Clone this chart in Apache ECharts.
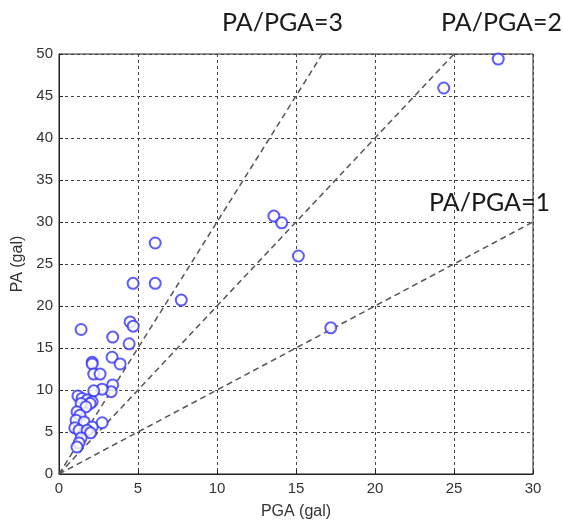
<!DOCTYPE html>
<html>
<head>
<meta charset="utf-8">
<script src="https://cdn.jsdelivr.net/npm/echarts@6/dist/echarts.min.js"></script>
<style>
html,body{margin:0;padding:0;background:#fff;}
#chart{width:563px;height:526px;}
</style>
</head>
<body>
<div id="chart"></div>
<script>
// Data
var pga = [27.8, 24.35, 6.09, 4.69, 6.09, 7.74, 15.15, 13.6, 14.1, 17.2, 1.4, 4.5, 4.7, 3.4, 4.44, 3.36, 2.1, 2.1, 3.87, 2.2, 2.6, 3.4, 3.3, 2.73, 2.2, 1.2, 1.46, 1.78, 2.1, 1.97, 1.4, 1.7, 1.14, 1.33, 1.08, 1.59, 2.73, 2.1, 1.0, 1.27, 1.78, 2.0, 1.4, 1.27, 1.14];
var pa  = [49.4, 45.95, 27.5, 22.7, 22.7, 20.7, 25.95, 30.7, 29.9, 17.4, 17.2, 18.1, 17.6, 16.3, 15.5, 13.9, 13.3, 13.1, 13.1, 11.9, 11.9, 10.6, 9.8, 10.1, 9.9, 9.3, 9.0, 8.8, 8.6, 8.4, 8.4, 8.0, 7.4, 7.0, 6.4, 6.2, 6.1, 5.6, 5.5, 5.2, 5.2, 4.9, 4.3, 3.7, 3.2];
var ratios = [1, 2, 3];
var ratioLabels = ['PA/PGA=1', 'PA/PGA=2', 'PA/PGA=3'];
var xTitle = 'PGA (gal)';
var yTitle = 'PA (gal)';
var xMax = 30, yMax = 50;

var chart = echarts.init(document.getElementById('chart'));
var points = pga.map(function (v, i) { return [v, pa[i]]; });

var refSeries = ratios.map(function (r) {
  var xEnd = Math.min(xMax, yMax / r);
  return {
    type: 'line', data: [[0, 0], [xEnd, xEnd * r]], symbol: 'none', silent: true,
    lineStyle: { color: '#555', width: 1.5, type: [6, 4] }, z: 2
  };
});

var axisFont = { fontFamily: 'Liberation Sans', fontSize: 15, color: '#333' };
var split = { show: true, lineStyle: { color: '#444', width: 1, type: [3, 3] } };

chart.setOption({
  animation: false,
  backgroundColor: '#fff',
  grid: { left: 59, top: 54, right: 30, bottom: 52, show: true, borderColor: '#222', borderWidth: 1, backgroundColor: 'transparent' },
  xAxis: {
    type: 'value', min: 0, max: xMax, interval: 5,
    name: xTitle, nameLocation: 'middle', nameGap: 30,
    nameTextStyle: { fontFamily: 'Liberation Sans', fontSize: 16, color: '#333' },
    axisLine: { show: true, onZero: false, lineStyle: { color: '#222' } },
    axisTick: { show: true, inside: true, length: 4, lineStyle: { color: '#222' } },
    axisLabel: Object.assign({ margin: 7 }, axisFont),
    splitLine: split
  },
  yAxis: {
    type: 'value', min: 0, max: yMax, interval: 5,
    name: yTitle, nameLocation: 'middle', nameGap: 32,
    nameTextStyle: { fontFamily: 'Liberation Sans', fontSize: 16, color: '#333' },
    axisLine: { show: true, onZero: false, lineStyle: { color: '#222' } },
    axisTick: { show: true, inside: true, length: 4, lineStyle: { color: '#222' } },
    axisLabel: Object.assign({ margin: 6 }, axisFont),
    splitLine: split
  },
  series: refSeries.concat([{
    type: 'scatter', data: points, symbol: 'emptyCircle', symbolSize: 11,
    itemStyle: { color: '#3333ff', borderColor: '#3333ff', borderWidth: 1.1 }, z: 5
  }]),
  graphic: [
    { type: 'text', left: 222, top: 10, style: { text: ratioLabels[2], font: '25px Lato', fill: '#1a1a1a' } },
    { type: 'text', left: 441, top: 10, style: { text: ratioLabels[1], font: '25px Lato', fill: '#1a1a1a' } },
    { type: 'text', left: 429, top: 190, style: { text: ratioLabels[0], font: '25px Lato', fill: '#1a1a1a' } }
  ]
});
</script>
</body>
</html>
